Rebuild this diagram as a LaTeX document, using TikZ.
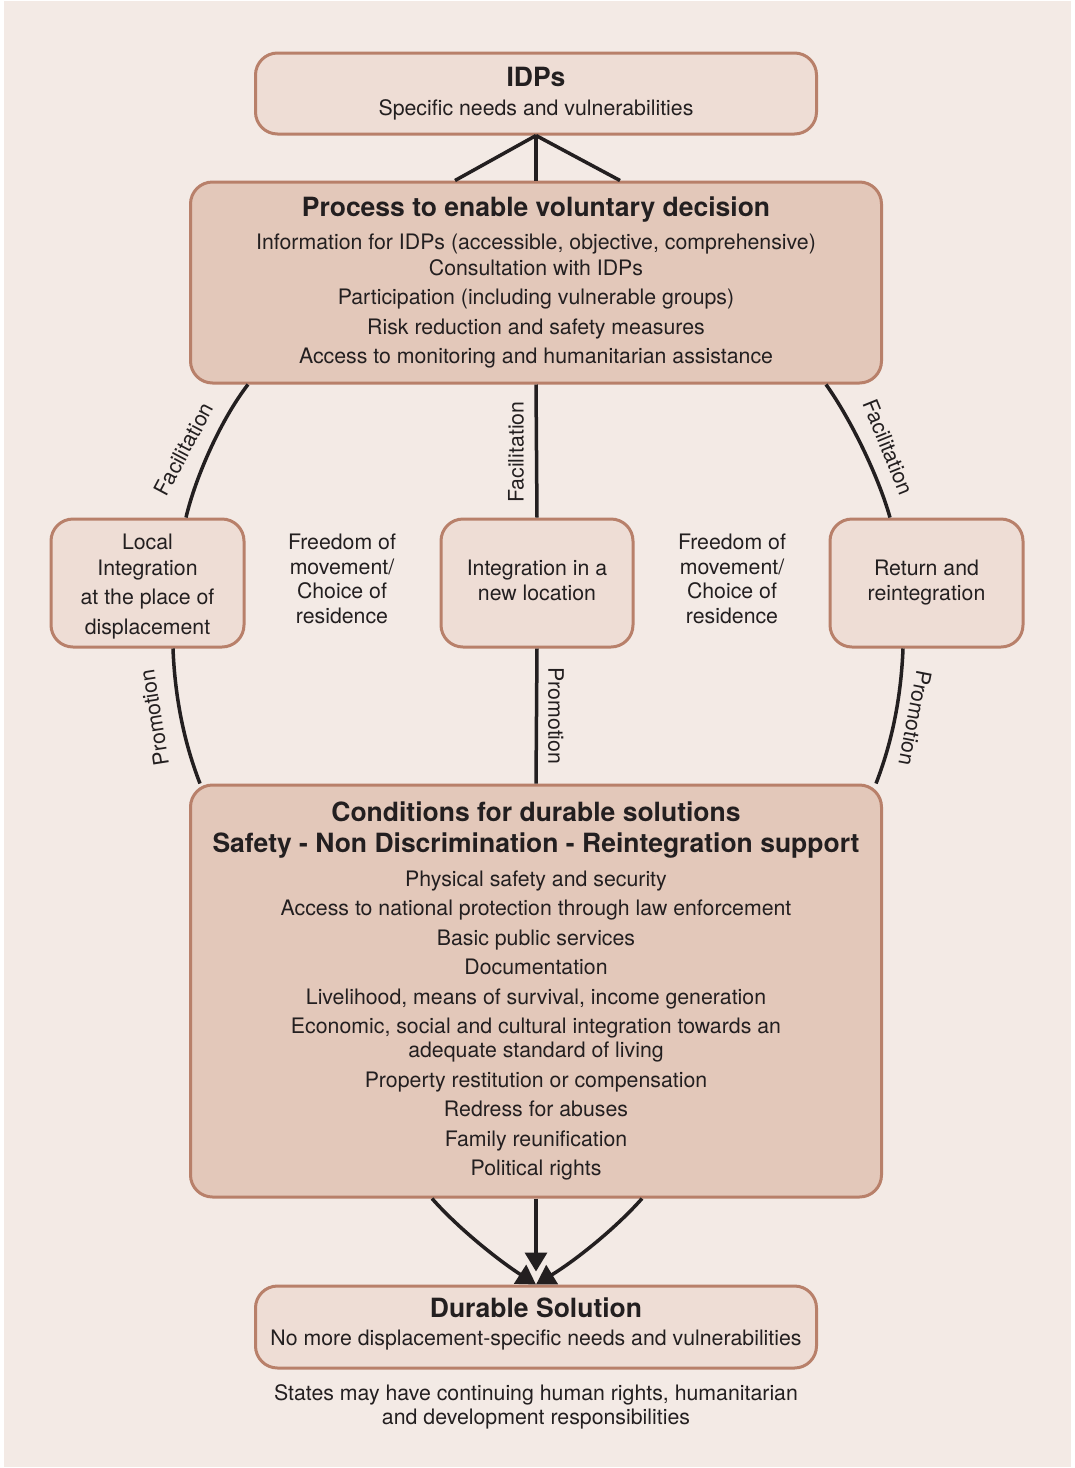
\documentclass[tikz,border=0pt]{standalone}
\usepackage{fontspec}
\setmainfont{TeX Gyre Heros}
\usetikzlibrary{arrows.meta,calc}
\definecolor{bgc}{HTML}{F3EAE5}
\definecolor{lightbox}{HTML}{EEDDD5}
\definecolor{darkbox}{HTML}{E3C8BA}
\definecolor{edgec}{HTML}{B8806A}
\definecolor{ink}{HTML}{231F20}
\begin{document}
\begin{tikzpicture}[x=1pt,y=-1pt,
  box/.style={draw=edgec, line width=3pt, rounded corners=22pt, inner sep=0pt,
    align=center, text=ink, font=\fontsize{21.3}{29.5}\selectfont},
  lbox/.style={box, fill=lightbox},
  dbox/.style={box, fill=darkbox},
  conn/.style={draw=ink, line width=3.5pt},
  arr/.style={conn, -{Triangle[width=22pt,length=19pt]}},
  lbl/.style={text=ink, font=\fontsize{21.3}{25}\selectfont, inner sep=0pt},
  plain/.style={text=ink, align=center, inner sep=0pt}]
\useasboundingbox (0,0) rectangle (1075,1468);
\fill[white] (0,0) rectangle (1075,1468);
\fill[bgc] (4,1) rectangle (1071,1467);

% boxes
\node[lbox, minimum width=561, minimum height=81] (idp) at (536,93.5)
  {{\bfseries\fontsize{26.5}{30}\selectfont IDPs}\\
   Specific needs and vulnerabilities};
\node[dbox, minimum width=691, minimum height=201] (proc) at (536,282.5)
  {{\bfseries\fontsize{26.5}{30}\selectfont Process to enable voluntary decision}\\[3pt]
   Information for IDPs (accessible, objective, comprehensive)\\[-3.5pt]
   Consultation with IDPs\\
   Participation (including vulnerable groups)\\
   Risk reduction and safety measures\\
   Access to monitoring and humanitarian assistance};
\node[lbox, minimum width=193, minimum height=128] (loc) at (147.5,583)
  {\raisebox{0pt}[\dimexpr\height+1.5pt\relax]{Local}\\[-3.5pt] Integration\\ at the place of\\
   \raisebox{0pt}[\height][0pt]{displacement}};
\node[lbox, minimum width=192, minimum height=128] (newl) at (537,583)
  {Integration in a\\[-4.5pt] \raisebox{0pt}[\height][6pt]{new location}};
\node[lbox, minimum width=193, minimum height=128] (ret) at (926.5,583)
  {Return and\\[-4.5pt] reintegration};
\node[dbox, minimum width=691, minimum height=412] (cond) at (536,991)
  {{\bfseries\fontsize{26.5}{30}\selectfont Conditions for durable solutions}\\[1.5pt]
   {\bfseries\fontsize{26.5}{30}\selectfont Safety - Non Discrimination - Reintegration support}\\[4pt]
   Physical safety and security\\
   Access to national protection through law enforcement\\
   Basic public services\\
   Documentation\\
   Livelihood, means of survival, income generation\\
   Economic, social and cultural integration towards an\\[-5.5pt]
   adequate standard of living\\
   Property restitution or compensation\\
   Redress for abuses\\
   Family reunification\\
   Political rights};
\node[lbox, minimum width=561, minimum height=82] (dur) at (536,1327)
  {{\bfseries\fontsize{26.5}{30}\selectfont Durable Solution}\\[-1pt]
   \raisebox{0pt}[\height][\dimexpr\depth+6pt\relax]{No more displacement-specific needs and vulnerabilities}};

% free texts
\node[plain, font=\fontsize{21.3}{24.7}\selectfont] (fm1) at (342,579)
  {Freedom of\\ movement/\\ Choice of\\ residence};
\node[plain, font=\fontsize{21.3}{24.7}\selectfont] (fm2) at (732,579)
  {Freedom of\\ movement/\\ Choice of\\ residence};
\node[plain, font=\fontsize{21.3}{24}\selectfont] (foot) at (536,1407)
  {States may have continuing human rights, humanitarian\\
   and development responsibilities};

% top connectors
\draw[conn] (idp.south) -- ($(proc.north)+(-81,0)$);
\draw[conn] (idp.south) -- (proc.north);
\draw[conn] (idp.south) -- ($(proc.north)+(84,0)$);

% middle connectors
\draw[conn] (proc.south) -- (newl.north);
\draw[conn] (newl.south) -- (cond.north);

% left arcs
\draw[conn] ($(proc.south)+(-288,0)$) .. controls (222,418) and (196,475) .. ($(loc.north)+(38.5,0)$);
\draw[conn] ($(loc.south)+(25.5,0)$) .. controls (175,700) and (185,745) .. ($(cond.north)+(-336,0)$);
% right arcs
\draw[conn] ($(proc.south)+(290,0)$) .. controls (850,418) and (878,475) .. ($(ret.north)+(-36.5,0)$);
\draw[conn] ($(ret.south)+(-23.5,0)$) .. controls (901,700) and (891,745) .. ($(cond.north)+(340,0)$);

% labels
\node[lbl, rotate=62] (facL) at (184,449) {Facilitation};
\node[lbl, rotate=90] (facM) at (516,452) {Facilitation};
\node[lbl, rotate=-68] (facR) at (888,447) {Facilitation};
\node[lbl, rotate=99] (proL) at (154,718) {Promotion};
\node[lbl, rotate=-90] (proM) at (556,716) {Promotion};
\node[lbl, rotate=-101] (proR) at (915,718) {Promotion};

% bottom arrows
\draw[arr] (cond.south) -- ($(dur.north)+(0,-13)$);
\draw[arr] ($(cond.south)+(-104,0)$) .. controls (458,1228) and (498,1260) .. (dur.north);
\draw[arr] ($(cond.south)+(106,0)$) .. controls (616,1228) and (576,1260) .. (dur.north);
\end{tikzpicture}
\end{document}
